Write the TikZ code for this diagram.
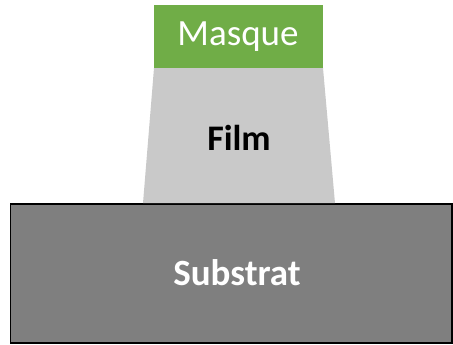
\documentclass[tikz,border=0pt]{standalone}
\usepackage{fontspec}
\setmainfont{Carlito}
\definecolor{maskgreen}{HTML}{70AD47}
\definecolor{filmgray}{HTML}{C9C9C9}
\definecolor{subgray}{HTML}{7F7F7F}
\begin{document}
\begin{tikzpicture}[x=1pt,y=1pt,
  lbl/.style={font=\fontsize{37}{40}\selectfont, inner sep=0pt}]
\useasboundingbox (0,0) rectangle (453,345);
% substrate
\draw[fill=subgray, draw=black, line width=1.5pt] (10.5,2) rectangle (452,141);
\node[lbl, text=white, font=\fontsize{37}{40}\selectfont\bfseries] (sub) at (237,72) {Substrat};
% film
\fill[filmgray] (143,141.8) -- (335,141.8) -- (323,277) -- (154,277) -- cycle;
\node[lbl, text=black, font=\fontsize{36}{40}\selectfont\bfseries] (film) at (239,207) {Film};
% mask
\fill[maskgreen] (154,277) rectangle (323,340);
\node[lbl, text=white] (mask) at (238,308) {Masque};
\end{tikzpicture}
\end{document}
